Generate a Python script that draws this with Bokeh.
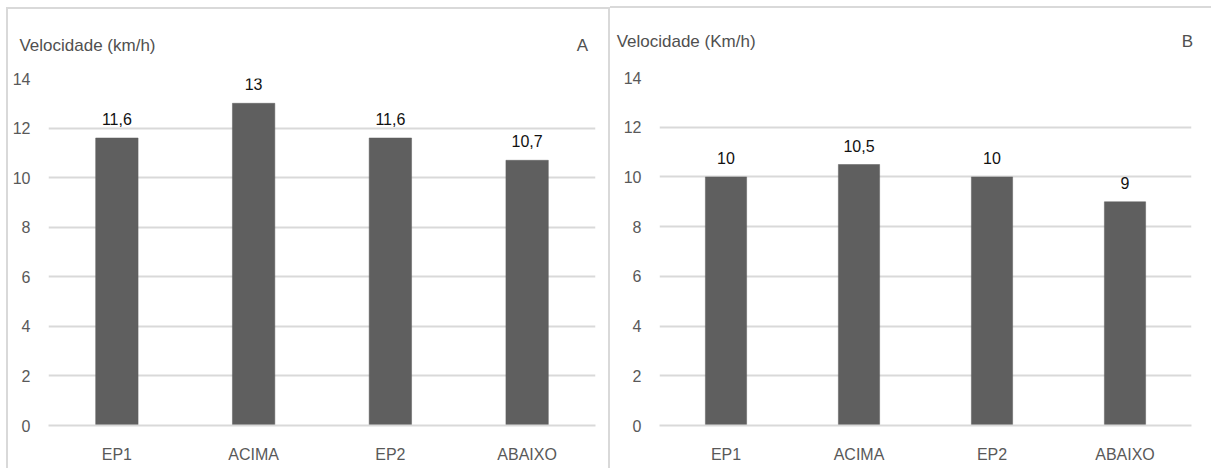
from bokeh.plotting import figure
from bokeh.models import (ColumnDataSource, LabelSet, FixedTicker, Range1d,
                          Spacer, LinearAxis)
from bokeh.layouts import row
from bokeh.embed import file_html
from bokeh.resources import INLINE
from bokeh.core.properties import value

# Average speed per sampling point, two campaigns (A and B)
categories = ["EP1", "ACIMA", "EP2", "ABAIXO"]
speed_a = [11.6, 13.0, 11.6, 10.7]
speed_b = [10.0, 10.5, 10.0, 9.0]
y_ticks = [0, 2, 4, 6, 8, 10, 12, 14]
title_a = "Velocidade (km/h)"
title_b = "Velocidade (Km/h)"

FONT = "Liberation Sans"
GRID = "#d9d9d9"
TXT = "#595959"
BAR = "#5f5f5f"
EDGE = "2px solid #d9d9d9"


def fmt(v):
    return f"{v:g}".replace(".", ",")


def panel(values, title, tag, width, height, borders, top_margin,
          title_x, tag_x, head_gap):
    slots = [i + 0.5 for i in range(len(categories))]
    p = figure(x_range=Range1d(0, len(categories)), y_range=Range1d(0, 14),
               width=width, height=height, output_backend="svg",
               toolbar_location=None, tools="",
               min_border_left=borders[0], min_border_right=borders[1],
               min_border_top=borders[2], min_border_bottom=borders[3])
    p.margin = (top_margin, 0, 0, 0)
    p.outline_line_color = None
    p.background_fill_color = "white"
    p.border_fill_color = "white"

    src = ColumnDataSource(dict(x=slots, top=values,
                                label=[fmt(v) for v in values]))
    p.vbar(x="x", top="top", width=0.31, source=src,
           fill_color=BAR, line_color=BAR, line_width=0.5)

    p.add_layout(LabelSet(x="x", y="top", text="label", source=src,
                          y_offset=19, text_align="center",
                          text_baseline="middle", text_font=value(FONT),
                          text_font_size="16px", text_color="#111111"))

    p.yaxis.ticker = FixedTicker(ticks=y_ticks)
    p.yaxis.axis_line_color = None
    p.yaxis.major_tick_line_color = None
    p.yaxis.minor_tick_line_color = None
    p.yaxis.major_label_standoff = 12
    p.yaxis.major_label_text_font = FONT
    p.yaxis.major_label_text_font_size = "16px"
    p.yaxis.major_label_text_color = TXT

    p.xaxis.ticker = FixedTicker(ticks=slots)
    p.xaxis.major_label_overrides = dict(zip(slots, categories))
    p.xaxis.axis_line_color = GRID
    p.xaxis.axis_line_width = 2
    p.xaxis.major_tick_line_color = None
    p.xaxis.minor_tick_line_color = None
    p.xaxis.major_label_standoff = 14
    p.xaxis.major_label_text_font = FONT
    p.xaxis.major_label_text_font_size = "16px"
    p.xaxis.major_label_text_color = TXT

    p.xgrid.grid_line_color = None
    p.ygrid.grid_line_color = GRID
    p.ygrid.grid_line_width = 2

    # header row: top axis carrying the unit caption and the panel tag
    head = LinearAxis(ticker=FixedTicker(ticks=[title_x, tag_x]),
                      major_label_overrides={title_x: title, tag_x: tag})
    head.axis_line_color = None
    head.major_tick_line_color = None
    head.minor_tick_line_color = None
    head.major_label_standoff = head_gap
    head.major_label_text_font = FONT
    head.major_label_text_font_size = "17px"
    head.major_label_text_color = "#505050"
    p.add_layout(head, "above")
    return p


pa = panel(speed_a, title_a, "A", 604, 461, (40, 17, 67, 44), 7,
           0.285, 3.904, 18)
pa.styles = {"box-sizing": "border-box", "border-left": EDGE,
             "border-top": EDGE, "border-right": EDGE}

pb = panel(speed_b, title_b, "B", 601, 462, (49, 20, 69, 45), 6,
           0.2, 3.97, 21)
pb.styles = {"box-sizing": "border-box", "border-top": EDGE}

layout = row(Spacer(width=6, height=10), pa, pb)
layout.spacing = 0

open("out.html", "w").write(file_html(layout, INLINE))
